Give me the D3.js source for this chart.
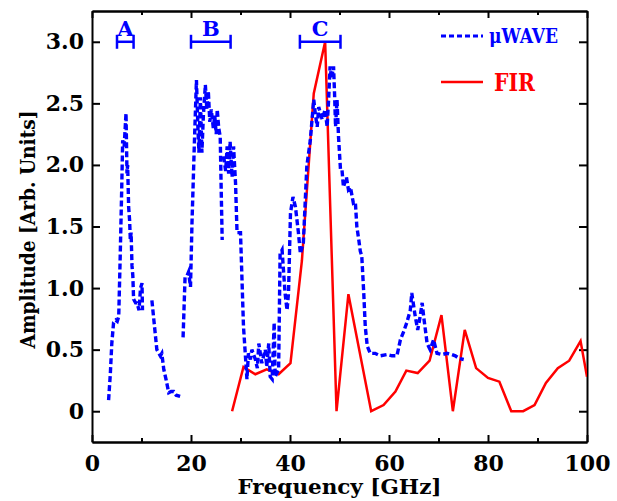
<!DOCTYPE html>
<html>
<head>
<meta charset="utf-8">
<script src="https://cdn.jsdelivr.net/npm/d3@7"></script>
<style>
	body { margin: 0; background: #fff; }
	svg { display: block; }
	.axis text { font-family: "DejaVu Serif", serif; font-weight: bold; font-size: 22px; fill: #000; }
	.axis path, .axis line { stroke: #000; stroke-width: 2; }
	.title { font-family: "DejaVu Serif", serif; font-weight: bold; font-size: 21px; fill: #000; }
	.tag { font-family: "DejaVu Serif", serif; font-weight: bold; }
</style>
</head>
<body>
<svg id="chart"></svg>
<script>
// microwave spectrum, null = gap in the trace
const muwaveFreq = [3.35, 3.7, 4.0, 4.36, 4.8, 5.1, 5.4, 5.7, 6.0, 6.2, 6.5, 6.7, 6.87, 7.07, 7.2, 7.4, 7.6, 7.74, 7.9, 8.08, 8.25, 8.4, 8.8, 9.1, 9.5, 9.8, 10.1, 10.2, 11,
	12.1, 12.6, 13.1, 13.8, 14.1, 14.5, 15.0, 15.5, 16.0, 16.5, 17.0, 17.8, 18.1,
	18.4, 18.8, 19.2, 19.5, 19.9, 20.2, 20.7, 21.1, 21.4, 21.6, 21.9, 22.2, 22.5, 22.9, 23.2, 23.5, 23.8, 24.1, 24.5, 24.8, 25.1, 25.3, 25.6, 25.9, 26.1, 26.3, 26.45,
	26.6, 27.0, 27.3, 27.6, 27.9, 28.3, 28.6, 29.0, 29.3, 30.0, 30.6, 31.3, 31.6, 32.0, 32.3, 33.0, 33.4, 33.7, 34.3, 35.0, 35.3, 35.7, 36.0, 36.4, 36.8, 37.0, 37.7,
	38.0, 38.4, 39.0, 39.4, 39.7, 40.1, 40.6, 41.1, 41.7, 42.1, 42.7, 43.4, 44.1, 44.8, 45.1, 45.5, 45.8, 46.5, 47.1, 47.5, 47.8, 48.1, 48.4, 48.8, 49.0, 49.2, 49.5,
	49.8, 50.2, 50.5, 50.8, 51.4, 51.8, 52.2, 52.8, 53.2, 53.5, 53.9, 54.2, 54.5, 54.9, 55.2, 55.6, 56.2, 57.2, 58.2, 59.6, 60.6, 61.6, 62.3, 62.9, 63.6, 64.3, 64.6,
	65.0, 65.3, 65.8, 66.3, 66.7, 67.0, 67.7, 68.3, 69.0, 69.7, 70.7, 71.7, 72.7, 73.4, 74.1, 75.1];
const muwaveAmp = [0.09, 0.3, 0.55, 0.72, 0.74, 0.73, 0.77, 1.26, 1.8, 2.2, 2.15, 2.3, 2.42, 1.93, 2.0, 1.66, 1.55, 1.39, 1.45, 1.18, 1.1, 0.91, 0.88, 0.88, 0.82, 1.0, 1.04, 0.82, null,
	0.9, 0.7, 0.5, 0.45, 0.47, 0.34, 0.25, 0.15, 0.16, 0.16, 0.13, 0.12, null,
	0.6, 1.09, 1.1, 1.13, 1.01, 1.53, 2.2, 2.69, 2.3, 2.1, 2.55, 2.1, 2.4, 2.65, 2.45, 2.6, 2.35, 2.45, 2.3, 2.4, 2.25, 2.45, 2.3, 2.23, 1.8, 1.39, null,
	2.07, 1.95, 2.15, 1.93, 2.19, 1.9, 2.15, 1.85, 1.45, 1.45, 0.69, 0.26, 0.47, 0.42, 0.5, 0.42, 0.35, 0.55, 0.39, 0.5, 0.36, 0.55, 0.28, 0.26, 0.72, 0.28, 0.34,
	1.28, 1.31, 0.96, 0.82, 0.96, 1.61, 1.74, 1.66, 1.45, 1.28, 1.37, 1.99, 2.2, 2.53, 2.42, 2.31, 2.47, 2.37, 2.45, 2.31, 2.53, 2.8, 2.7, 2.8, 2.58, 2.31, 2.53,
	2.23, 1.96, 1.96, 1.82, 1.9, 1.8, 1.82, 1.69, 1.7, 1.5, 1.39, 1.3, 1.26, 0.96, 0.69, 0.53, 0.47, 0.47, 0.45, 0.46, 0.45, 0.45, 0.58, 0.64, 0.72, 0.82, 0.96,
	0.85, 0.77, 0.66, 0.77, 0.88, 0.77, 0.55, 0.5, 0.58, 0.47, 0.46, 0.47, 0.46, 0.45, 0.43, 0.42];

// far-infrared spectrum
const firFreq = [28.3, 30.6, 33.0, 35.3, 37.7, 40.1, 42.4, 44.8, 47.1, 49.4, 51.8, 56.4, 58.9, 61.3, 63.5, 65.8, 68.2, 70.6, 72.9, 75.3,
	77.6, 80.0, 82.3, 84.7, 87.1, 89.4, 91.7, 94.1, 96.4, 98.7, 100];
const firAmp = [0, 0.36, 0.3, 0.34, 0.3, 0.39, 1.22, 2.58, 3.0, 0, 0.95, 0, 0.05, 0.16, 0.33, 0.31, 0.41, 0.78, 0, 0.66,
	0.35, 0.27, 0.24, 0, 0, 0.05, 0.23, 0.35, 0.41, 0.57, 0.28];

// frequency bands marked at the top
const bandLabels = ['A', 'B', 'C'];
const bandStart = [5.05, 20, 42];
const bandEnd = [8.4, 28, 50.2];
const bandLevel = 3.0;

const xTicks = [0, 20, 40, 60, 80, 100];
const xMinorTicks = [10, 30, 50, 70, 90];
const yTicks = [0, 0.5, 1.0, 1.5, 2.0, 2.5, 3.0];

const seriesNames = ['\u03bcWAVE', 'FIR'];
const seriesColors = ['#0000ff', '#ff0000'];

class SpectrumVis {

	constructor(_config) {
		this.config = {
			parentElement: _config.parentElement,
			containerWidth: _config.containerWidth || 617,
			containerHeight: _config.containerHeight || 501,
			margin: _config.margin || {top: 11, right: 30, bottom: 59, left: 92}
		};
		this.initVis();
	}

	/**
	 * Scales, axes and frame
	 */
	initVis() {
		let vis = this;
		vis.width = vis.config.containerWidth - vis.config.margin.left - vis.config.margin.right;
		vis.height = vis.config.containerHeight - vis.config.margin.top - vis.config.margin.bottom;

		vis.svg = d3.select(vis.config.parentElement)
			.attr('width', vis.config.containerWidth)
			.attr('height', vis.config.containerHeight);

		vis.chart = vis.svg.append('g')
			.attr('transform', `translate(${vis.config.margin.left},${vis.config.margin.top})`);

		vis.xScale = d3.scaleLinear().domain([0, 100]).range([0, vis.width]);
		vis.yScale = d3.scaleLinear().domain([-0.25, 3.25]).range([vis.height, 0]);

		vis.chart.append('clipPath').attr('id', 'plot-clip')
			.append('rect').attr('width', vis.width).attr('height', vis.height);

		// ticks all point inwards, labels only on bottom and left
		const yFmt = d => d === 0 ? '0' : d3.format('.1f')(d);

		vis.chart.append('g').attr('class', 'axis')
			.attr('transform', `translate(0,${vis.height})`)
			.call(d3.axisBottom(vis.xScale).tickValues(xTicks).tickSize(-7).tickSizeOuter(0).tickPadding(13));
		vis.chart.append('g').attr('class', 'axis')
			.attr('transform', `translate(0,${vis.height})`)
			.call(d3.axisBottom(vis.xScale).tickValues(xMinorTicks).tickSize(-4).tickSizeOuter(0).tickFormat(''));
		vis.chart.append('g').attr('class', 'axis')
			.call(d3.axisTop(vis.xScale).tickValues(xTicks).tickSize(-7).tickSizeOuter(0).tickFormat(''));
		vis.chart.append('g').attr('class', 'axis')
			.call(d3.axisTop(vis.xScale).tickValues(xMinorTicks).tickSize(-4).tickSizeOuter(0).tickFormat(''));
		vis.chart.append('g').attr('class', 'axis')
			.call(d3.axisLeft(vis.yScale).tickValues(yTicks).tickSize(-8).tickSizeOuter(0).tickPadding(8).tickFormat(yFmt));
		vis.chart.append('g').attr('class', 'axis')
			.attr('transform', `translate(${vis.width},0)`)
			.call(d3.axisRight(vis.yScale).tickValues(yTicks).tickSize(-8).tickSizeOuter(0).tickFormat(''));

		// axis titles
		vis.svg.append('text').attr('class', 'title')
			.attr('x', vis.config.margin.left + vis.width / 2)
			.attr('y', 494)
			.attr('text-anchor', 'middle')
			.attr('textLength', 204).attr('lengthAdjust', 'spacingAndGlyphs')
			.text('Frequency [GHz]');

		vis.svg.append('text').attr('class', 'title')
			.attr('transform', `translate(35,${vis.config.margin.top + vis.height / 2 + 3}) rotate(-90)`)
			.attr('text-anchor', 'middle')
			.attr('textLength', 238).attr('lengthAdjust', 'spacingAndGlyphs')
			.text('Amplitude [Arb. Units]');
	}

	/**
	 * Lines, band markers and legend
	 */
	renderVis() {
		let vis = this;
		const line = d3.line()
			.defined(d => d[1] !== null)
			.x(d => vis.xScale(d[0]))
			.y(d => vis.yScale(d[1]));

		const plot = vis.chart.append('g').attr('clip-path', 'url(#plot-clip)');

		plot.append('path')
			.datum(d3.zip(firFreq, firAmp))
			.attr('d', line)
			.attr('fill', 'none')
			.attr('stroke', seriesColors[1])
			.attr('stroke-width', 2.5)
			.attr('stroke-linejoin', 'miter');

		plot.append('path')
			.datum(d3.zip(muwaveFreq, muwaveAmp))
			.attr('d', line)
			.attr('fill', 'none')
			.attr('stroke', seriesColors[0])
			.attr('stroke-width', 3.4)
			.attr('stroke-dasharray', '6,3');

		// A / B / C bands
		const bands = vis.chart.selectAll('.band')
			.data(bandLabels.map((l, i) => ({label: l, x0: bandStart[i], x1: bandEnd[i]})))
			.join('g')
			.attr('class', 'band');
		const by = vis.yScale(bandLevel);
		bands.append('line')
			.attr('x1', d => vis.xScale(d.x0)).attr('x2', d => vis.xScale(d.x1))
			.attr('y1', by).attr('y2', by);
		bands.append('line')
			.attr('x1', d => vis.xScale(d.x0)).attr('x2', d => vis.xScale(d.x0))
			.attr('y1', by - 7).attr('y2', by + 7);
		bands.append('line')
			.attr('x1', d => vis.xScale(d.x1)).attr('x2', d => vis.xScale(d.x1))
			.attr('y1', by - 7).attr('y2', by + 7);
		bands.selectAll('line')
			.attr('stroke', seriesColors[0])
			.attr('stroke-width', 2.5);
		bands.append('text')
			.attr('class', 'tag')
			.attr('x', d => vis.xScale((d.x0 + d.x1) / 2))
			.attr('y', by - 6)
			.attr('text-anchor', 'middle')
			.attr('font-size', 21)
			.attr('fill', seriesColors[0])
			.text(d => d.label);

		// legend
		const legend = vis.svg.append('g');
		const legendY = [36, 82];
		legend.selectAll('line')
			.data(seriesNames)
			.join('line')
			.attr('x1', 441).attr('x2', 483)
			.attr('y1', (d, i) => legendY[i]).attr('y2', (d, i) => legendY[i])
			.attr('stroke', (d, i) => seriesColors[i])
			.attr('stroke-width', (d, i) => i === 0 ? 3 : 2.5)
			.attr('stroke-dasharray', (d, i) => i === 0 ? '5,3' : null);
		legend.selectAll('text')
			.data(seriesNames)
			.join('text')
			.attr('class', 'tag')
			.attr('x', (d, i) => i === 0 ? 489 : 494)
			.attr('y', (d, i) => legendY[i] + (i === 0 ? 7 : 9))
			.attr('font-size', (d, i) => i === 0 ? 20 : 24)
			.attr('textLength', (d, i) => i === 0 ? 69 : 41)
			.attr('lengthAdjust', 'spacingAndGlyphs')
			.attr('fill', (d, i) => seriesColors[i])
			.text(d => d);
	}
}

const spectrum = new SpectrumVis({parentElement: '#chart'});
spectrum.renderVis();
</script>
</body>
</html>
